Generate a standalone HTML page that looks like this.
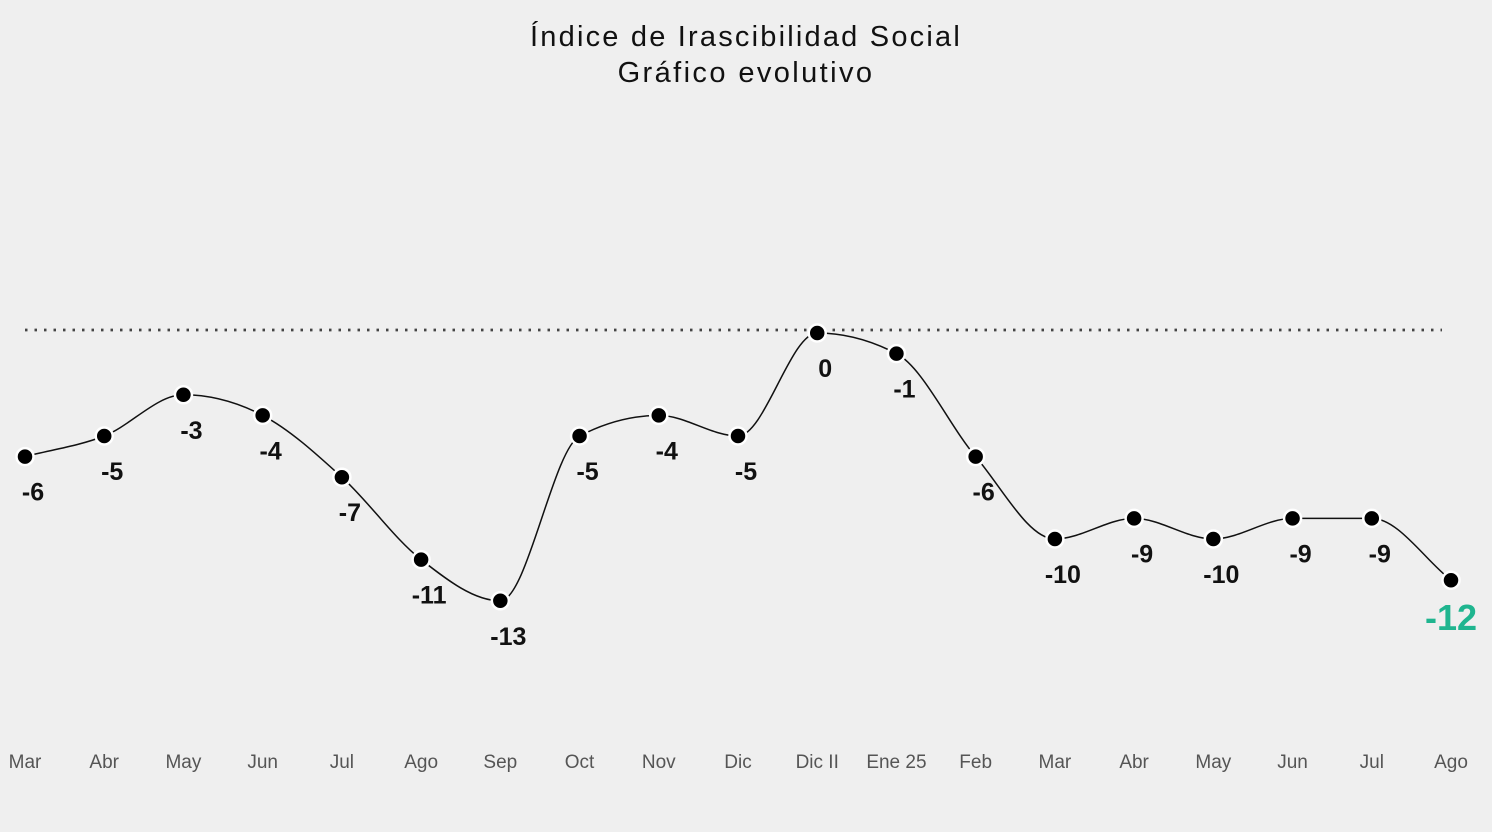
<!DOCTYPE html>
<html><head><meta charset="utf-8"><style>
body{margin:0;background:#efefef;}
svg{display:block;font-family:"Liberation Sans",sans-serif;}
</style></head><body>
<svg id="c" width="1492" height="832">
<rect width="1492" height="832" fill="#efefef"/>
<text x="746" y="46" text-anchor="middle" font-size="29" letter-spacing="2.2" fill="#111">Índice de Irascibilidad Social</text>
<text x="746" y="82" text-anchor="middle" font-size="29" letter-spacing="2.4" fill="#111">Gráfico evolutivo</text>
<line x1="25" y1="330" x2="1442" y2="330" stroke="#444" stroke-width="2.8" stroke-dasharray="2.5,7"/>
<g id="g"></g>
</svg>
<script>
const categories=["Mar","Abr","May","Jun","Jul","Ago","Sep","Oct","Nov","Dic","Dic II","Ene 25","Feb","Mar","Abr","May","Jun","Jul","Ago"];
const values=[-6,-5,-3,-4,-7,-11,-13,-5,-4,-5,0,-1,-6,-10,-9,-10,-9,-9,-12];
const NS="http://www.w3.org/2000/svg";
const g=document.getElementById('g');
const x=i=>25+i*(1451-25)/(categories.length-1);
const y=v=>333-20.6*v;
const pts=values.map((v,i)=>[x(i),y(v)]);
const n=pts.length,d=[],m=[];
for(let i=0;i<n-1;i++)d.push((pts[i+1][1]-pts[i][1])/(pts[i+1][0]-pts[i][0]));
for(let i=0;i<n;i++){
 if(i===0)m.push(d[0]);else if(i===n-1)m.push(d[n-2]);
 else{if(d[i-1]*d[i]<=0)m.push(0);else{const h0=pts[i][0]-pts[i-1][0],h1=pts[i+1][0]-pts[i][0];const p=(d[i-1]*h1+d[i]*h0)/(h0+h1);m.push((Math.sign(d[i-1])+Math.sign(d[i]))*Math.min(Math.abs(d[i-1]),Math.abs(d[i]),0.5*Math.abs(p)));}}
}
let path="M"+pts[0][0]+","+pts[0][1];
for(let i=0;i<n-1;i++){const h=(pts[i+1][0]-pts[i][0])/3;
 path+=` C${pts[i][0]+h},${pts[i][1]+m[i]*h} ${pts[i+1][0]-h},${pts[i+1][1]-m[i+1]*h} ${pts[i+1][0]},${pts[i+1][1]}`;}
const ln=document.createElementNS(NS,'path');
ln.setAttribute('d',path);ln.setAttribute('fill','none');ln.setAttribute('stroke','#111');ln.setAttribute('stroke-width','1.5');


g.appendChild(ln);
values.forEach((v,i)=>{
 const c=document.createElementNS(NS,'circle');
 c.setAttribute('cx',x(i));c.setAttribute('cy',y(v));c.setAttribute('r',8.5);c.setAttribute('fill','#000');c.setAttribute('stroke','#fff');c.setAttribute('stroke-width','2.5');
 
 
 g.appendChild(c);
 const last=i===n-1;
 const t=document.createElementNS(NS,'text');
 t.setAttribute('x',x(i)+(last?0:8));t.setAttribute('y',y(v)+(last?50:44));t.setAttribute('text-anchor','middle');
 t.setAttribute('font-size',last?'36':'25');t.setAttribute('font-weight','bold');t.setAttribute('fill',last?'#1fb58f':'#111');
 t.textContent=v;
 
 
 g.appendChild(t);
 const a=document.createElementNS(NS,'text');
 a.setAttribute('x',x(i));a.setAttribute('y',768);a.setAttribute('text-anchor','middle');a.setAttribute('font-size','19');a.setAttribute('fill','#555');
 a.textContent=categories[i];
 
 
 g.appendChild(a);
});
</script>
</body></html>
